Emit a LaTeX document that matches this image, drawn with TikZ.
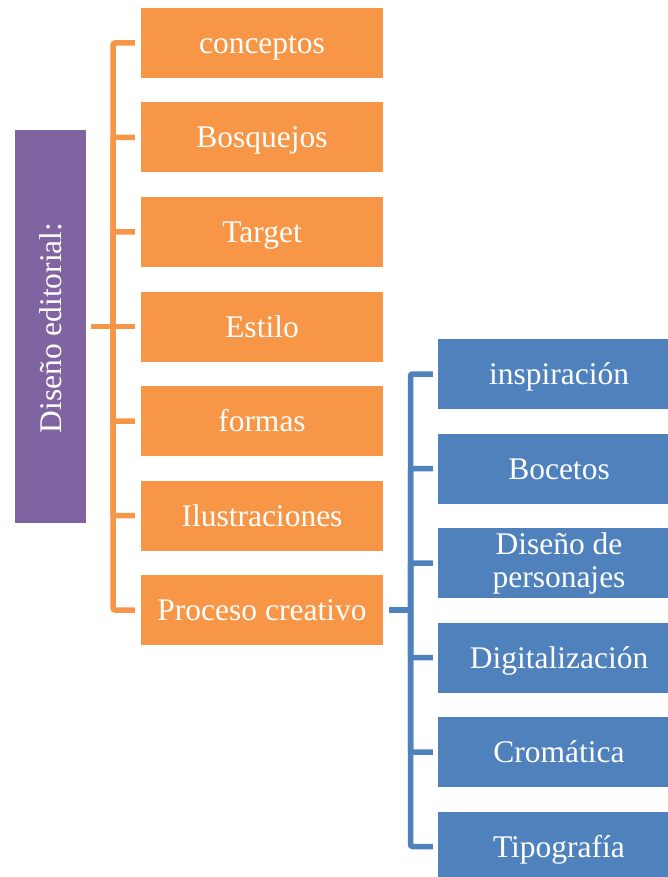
\documentclass[tikz,border=0pt]{standalone}
\usepackage{fontspec}
\setmainfont{Liberation Serif}
\definecolor{naranja}{HTML}{F79646}
\definecolor{azul}{HTML}{4F81BD}
\definecolor{morado}{HTML}{8064A2}
\tikzset{
  caja/.style={minimum width=242pt, minimum height=70pt, inner sep=0pt,
    text=white, align=center, font=\fontsize{31.5}{33}\selectfont},
  linea/.style={text height=21pt, text depth=0pt},
  cajan/.style={caja, linea, fill=naranja},
  cajaa/.style={caja, linea, fill=azul},
  cajaa2/.style={caja, fill=azul},
  lineano/.style={draw=naranja, line width=5.5pt, rounded corners=2pt},
  lineaaz/.style={draw=azul, line width=5.5pt, rounded corners=2pt}
}
\begin{document}
\begin{tikzpicture}[x=1pt,y=-1pt]
      \useasboundingbox (0,0) rectangle (668,877);
      \clip (0,0) rectangle (668,877);
      \node[fill=morado, minimum width=71pt, minimum height=392pt, inner sep=0pt]
        (diseno) at (50.5,326.5) {};
      \node[text=white, rotate=90, font=\fontsize{31.5}{33}\selectfont]
        (disenotxt) at (50.5,328) {Diseño editorial:};
      \draw
        (262,43) node[cajan] (c1){conceptos}
        (262,137.5) node[cajan] (c2){Bosquejos}
        (262,232) node[cajan] (c3){Target}
        (262,326.5) node[cajan] (c4){Estilo}
        (262,421) node[cajan] (c5){formas}
        (262,515.5) node[cajan] (c6){Ilustraciones}
        (262,610) node[cajan] (c7){Proceso creativo};
      \draw
        (559,374) node[cajaa] (d1){inspiración}
        (559,468.5) node[cajaa] (d2){Bocetos}
        (559,563) node[cajaa2] (d3){Diseño de\\personajes}
        (559,657.5) node[cajaa] (d4){Digitalización}
        (559,752) node[cajaa] (d5){Cromática}
        (559,846.5) node[cajaa] (d6){Tipografía};
      \coordinate (otronco) at (113,326.5);
      \coordinate (atronco) at (410.5,610);
      \begin{scope}[lineano, shorten <=6pt]
        \draw (c1.west) -| (otronco);
        \draw (c2.west) -| (otronco);
        \draw (c3.west) -| (otronco);
        \draw (c5.west) -| (otronco);
        \draw (c6.west) -| (otronco);
        \draw (c7.west) -| (otronco);
      \end{scope}
      \draw[lineano, shorten <=5pt, shorten >=6pt] (diseno.east) -- (c4.west);
      \begin{scope}[lineaaz, shorten <=5pt]
        \draw (d1.west) -| (atronco);
        \draw (d2.west) -| (atronco);
        \draw (d3.west) -| (atronco);
        \draw (d4.west) -| (atronco);
        \draw (d5.west) -| (atronco);
        \draw (d6.west) -| (atronco);
      \end{scope}
      \draw[lineaaz, shorten <=6pt] (c7.east) -- (atronco);
    \end{tikzpicture}
\end{document}
